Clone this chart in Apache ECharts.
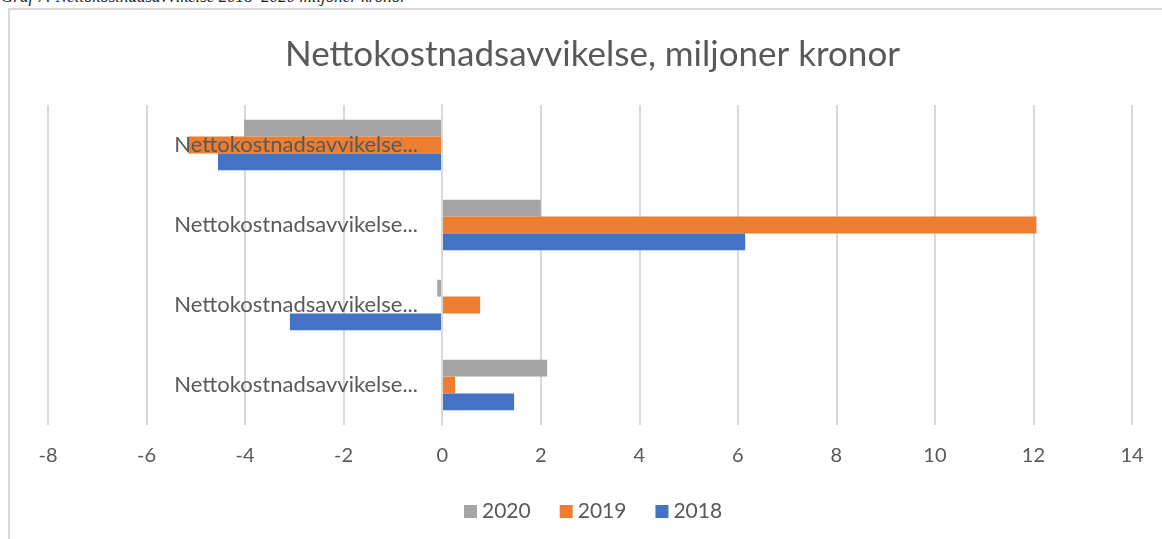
<!DOCTYPE html>
<html>
<head>
<meta charset="utf-8">
<script src="https://cdn.jsdelivr.net/npm/echarts@6/dist/echarts.min.js"></script>
<style>
  html, body { margin: 0; padding: 0; background: #fff; overflow: hidden; }
  #caption {
    position: absolute; left: 1px; top: -13px;
    font: italic 17px "Liberation Serif", serif; color: #222; white-space: nowrap;
  }
  #frame {
    position: absolute; left: 8px; top: 8px; width: 1200px; height: 600px;
    border-left: 2px solid #d9d9d9; border-top: 2px solid #d9d9d9;
  }
  #chart { position: absolute; left: 0; top: 0; width: 1162px; height: 539px; }
</style>
</head>
<body>
<div id="caption">Graf 7: Nettokostnadsavvikelse 2018–2020 miljoner kronor</div>
<div id="frame"></div>
<div id="chart"></div>
<script>
// categories, bottom to top (like the Excel chart)
const categories = [
  'Nettokostnadsavvikelse...',
  'Nettokostnadsavvikelse...',
  'Nettokostnadsavvikelse...',
  'Nettokostnadsavvikelse...'
];
const years = ['2020', '2019', '2018'];
const values2018 = [1.46, -3.09, 6.15, -4.55];
const values2019 = [0.26, 0.77, 12.06, -5.16];
const values2020 = [2.13, -0.1, 2.0, -4.02];
const xTicks = { min: -8, max: 14, step: 2 };

const colors = { '2018': '#4472c4', '2019': '#ed7d31', '2020': '#a5a5a5' };
const textColor = '#595959';
const font = 'Lato, "Noto Sans", sans-serif';

const chart = echarts.init(document.getElementById('chart'));

const seriesData = { '2018': values2018, '2019': values2019, '2020': values2020 };

chart.setOption({
  backgroundColor: 'transparent',
  animation: false,
  title: {
    text: 'Nettokostnadsavvikelse, miljoner kronor',
    left: 280,
    top: 32,
    textStyle: { color: textColor, fontSize: 35, fontWeight: 'normal', fontFamily: font }
  },
  legend: {
    data: ['2020', '2019', '2018'],
    bottom: 12,
    left: 459,
    icon: 'rect',
    itemWidth: 13,
    itemHeight: 13,
    itemGap: 29,
    textStyle: { color: textColor, fontSize: 21, fontFamily: font }
  },
  grid: { left: 48, right: 30, top: 105, bottom: 114, containLabel: false, outerBoundsMode: 'none' },
  xAxis: {
    type: 'value',
    min: xTicks.min,
    max: xTicks.max,
    interval: xTicks.step,
    axisLine: { show: false },
    axisTick: { show: false },
    splitLine: { show: true, lineStyle: { color: '#d9d9d9', width: 2 } },
    axisLabel: { color: textColor, fontSize: 20, fontFamily: font, margin: 21 }
  },
  yAxis: {
    type: 'category',
    data: categories,
    z: 5,
    axisLine: { show: true, onZero: true, lineStyle: { color: '#d9d9d9', width: 2 } },
    axisTick: { show: false },
    // labels sit just left of the zero line, as in the original
    axisLabel: { color: textColor, fontSize: 22, fontFamily: font, margin: -370, padding: [8, 0, 0, 0] }
  },
  series: years.map(y => ({
    name: y,
    type: 'bar',
    data: seriesData[y],
    barGap: '0%',
    barCategoryGap: '37%',
    itemStyle: { color: colors[y] }
  }))
});
</script>
</body>
</html>
